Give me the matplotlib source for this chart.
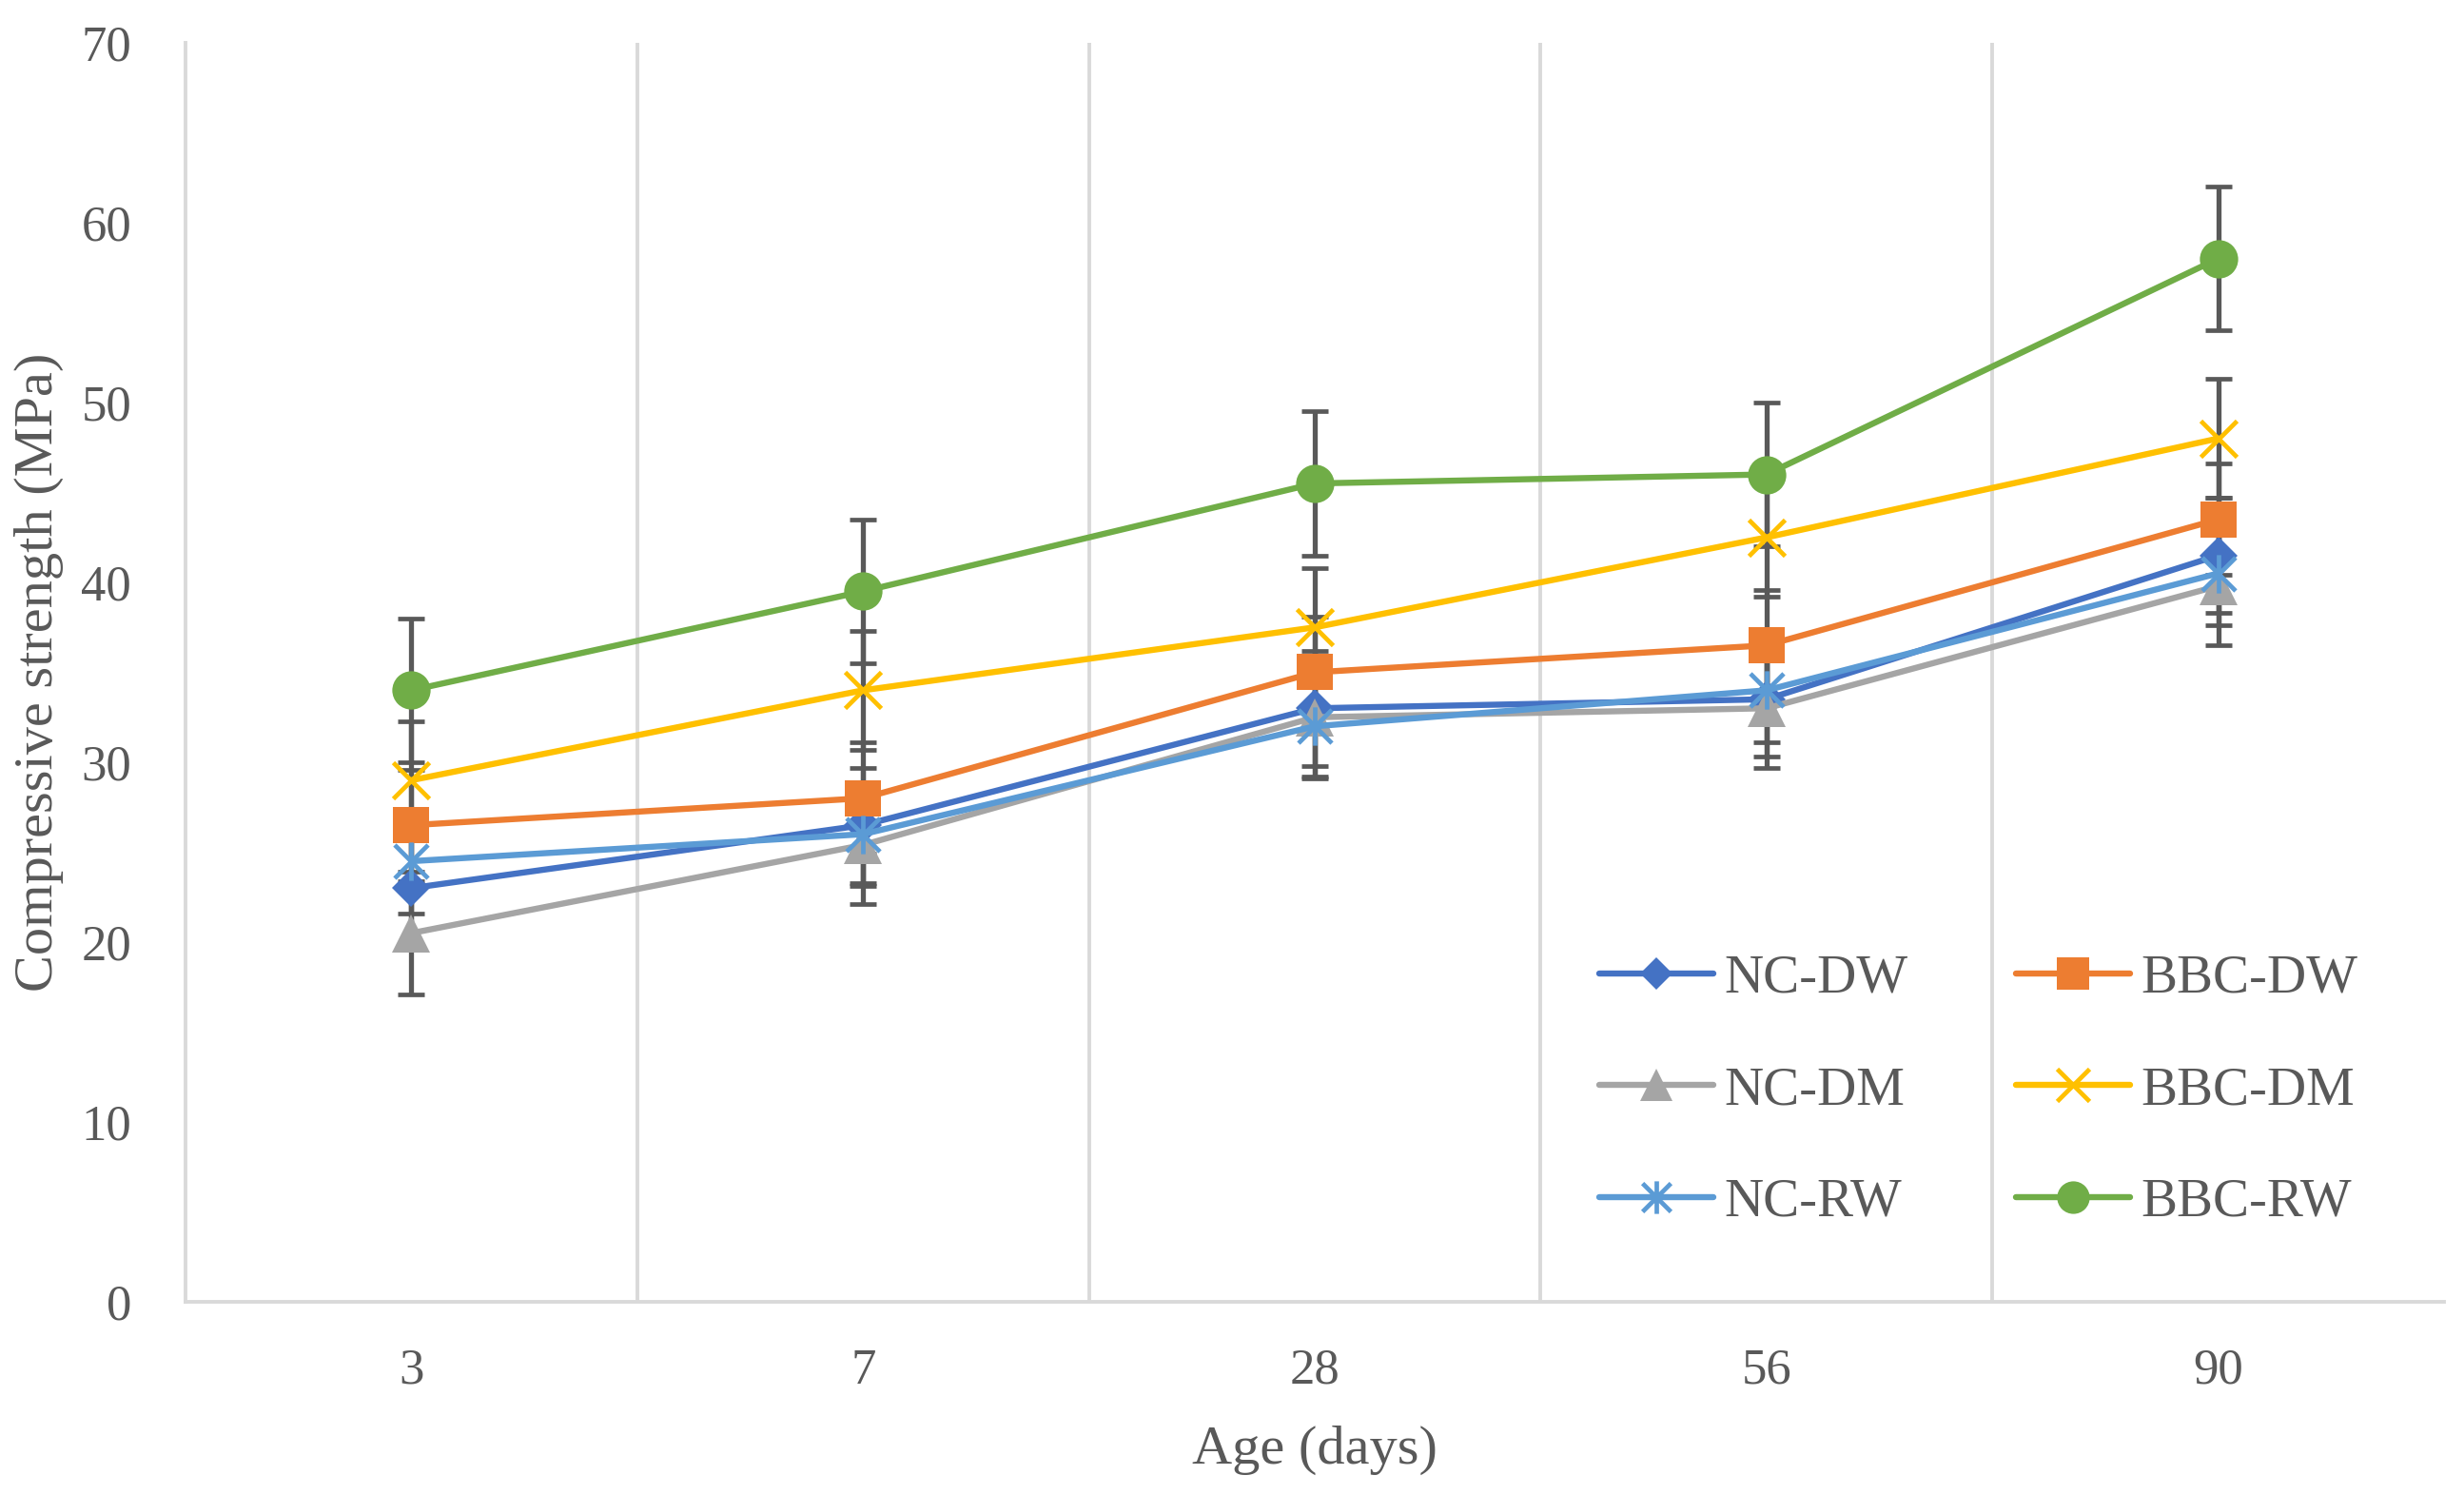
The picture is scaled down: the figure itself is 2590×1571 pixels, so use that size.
import matplotlib
matplotlib.use("Agg")
import matplotlib.pyplot as plt
from matplotlib.path import Path
from matplotlib.ticker import FixedLocator

# ---- data ----
ages = ["3", "7", "28", "56", "90"]
nc_dw = [23.0, 26.5, 33.0, 33.5, 41.5]
nc_dw_err = [3.2, 3.2, 3.2, 3.2, 3.2]
bbc_dw = [26.5, 28.0, 35.0, 36.5, 43.5]
bbc_dw_err = [3.1, 3.1, 3.1, 3.1, 3.1]
nc_dm = [20.5, 25.4, 32.5, 33.0, 39.8]
nc_dm_err = [3.4, 3.3, 3.3, 3.3, 3.3]
bbc_dm = [29.0, 34.0, 37.5, 42.5, 48.0]
bbc_dm_err = [3.3, 3.3, 3.3, 3.3, 3.3]
nc_rw = [24.5, 26.0, 32.0, 34.0, 40.5]
nc_rw_err = [2.9, 2.9, 2.9, 2.9, 2.9]
bbc_rw = [34.0, 39.5, 45.5, 46.0, 58.0]
bbc_rw_err = [4.0, 4.0, 4.0, 4.0, 4.0]

FONT = ["Liberation Serif", "DejaVu Serif"]
TXT = "#595959"

star_path = Path([(0, -1), (0, 1), (-0.87, -0.87), (0.87, 0.87), (-0.87, 0.87), (0.87, -0.87)],
                 [Path.MOVETO, Path.LINETO, Path.MOVETO, Path.LINETO, Path.MOVETO, Path.LINETO])

series = [
    ("NC-DW", nc_dw, nc_dw_err, "#4472C4", dict(marker="D", markersize=20)),
    ("BBC-DW", bbc_dw, bbc_dw_err, "#ED7D31", dict(marker="s", markersize=28)),
    ("NC-DM", nc_dm, nc_dm_err, "#A5A5A5", dict(marker="^", markersize=29)),
    ("BBC-DM", bbc_dm, bbc_dm_err, "#FFC000", dict(marker="x", markersize=28, markeredgewidth=3.4)),
    ("NC-RW", nc_rw, nc_rw_err, "#5B9BD5", dict(marker=star_path, markersize=29, markeredgewidth=3.4,
                                               markerfacecolor="none")),
    ("BBC-RW", bbc_rw, bbc_rw_err, "#70AD47", dict(marker="o", markersize=29)),
]

fig = plt.figure(figsize=(25.9, 15.71), dpi=100)
ax = fig.add_axes([0.0753, 0.1292, 0.9166, 0.8422])

x = list(range(len(ages)))
handles = {}
for i, (name, vals, err, col, mk) in enumerate(series):
    ax.errorbar(x, vals, yerr=err, fmt="none", ecolor="#595959", elinewidth=3.8,
                capsize=10, capthick=3.4, zorder=3)
    kw = dict(color=col, linewidth=4.6, zorder=5 + i, solid_capstyle="round")
    kw.update(mk)
    if "markeredgecolor" not in kw:
        kw["markeredgecolor"] = col
    if mk.get("marker") in ("D", "s", "^", "o"):
        kw["markeredgewidth"] = 0
    (ln,) = ax.plot(x, vals, label=name, **kw)
    handles[name] = ln

ax.set_xlim(-0.5, 4.5)
ax.set_ylim(0, 70)
ax.set_xticks(x)
ax.set_xticklabels(ages)
ax.set_yticks(range(0, 71, 10))
ax.xaxis.set_minor_locator(FixedLocator([0.5, 1.5, 2.5, 3.5]))
ax.grid(which="minor", axis="x", color="#D9D9D9", linewidth=2.8)
ax.tick_params(which="both", length=0)
ax.tick_params(axis="y", pad=41, labelsize=38, labelcolor=TXT)
ax.tick_params(axis="x", pad=35, labelsize=38, labelcolor=TXT)
for lab in ax.get_xticklabels() + ax.get_yticklabels():
    lab.set_fontfamily(FONT)

for s in ["top", "right"]:
    ax.spines[s].set_visible(False)
for s in ["left", "bottom"]:
    ax.spines[s].set_color("#D9D9D9")
    ax.spines[s].set_linewidth(2.8)

ax.set_xlabel("Age (days)", fontsize=42, color=TXT, family=FONT)
ax.set_ylabel("Compressive strength (MPa)", fontsize=42, color=TXT, family=FONT)
ax.xaxis.set_label_coords(0.5, -0.098)
ax.yaxis.set_label_coords(-0.054, 0.5)

order = ["NC-DW", "NC-DM", "NC-RW", "BBC-DW", "BBC-DM", "BBC-RW"]
leg = ax.legend([handles[n] for n in order], order, ncol=2, loc="center",
                bbox_to_anchor=(0.803, 0.2705), bbox_transform=fig.transFigure,
                frameon=False, prop={"family": FONT, "size": 41},
                handlelength=2.1, handletextpad=0.2, columnspacing=2.0,
                labelspacing=1.15, markerscale=0.85, borderpad=0)
for t in leg.get_texts():
    t.set_color(TXT)

fig.savefig("out.png", dpi=100, facecolor="white")
